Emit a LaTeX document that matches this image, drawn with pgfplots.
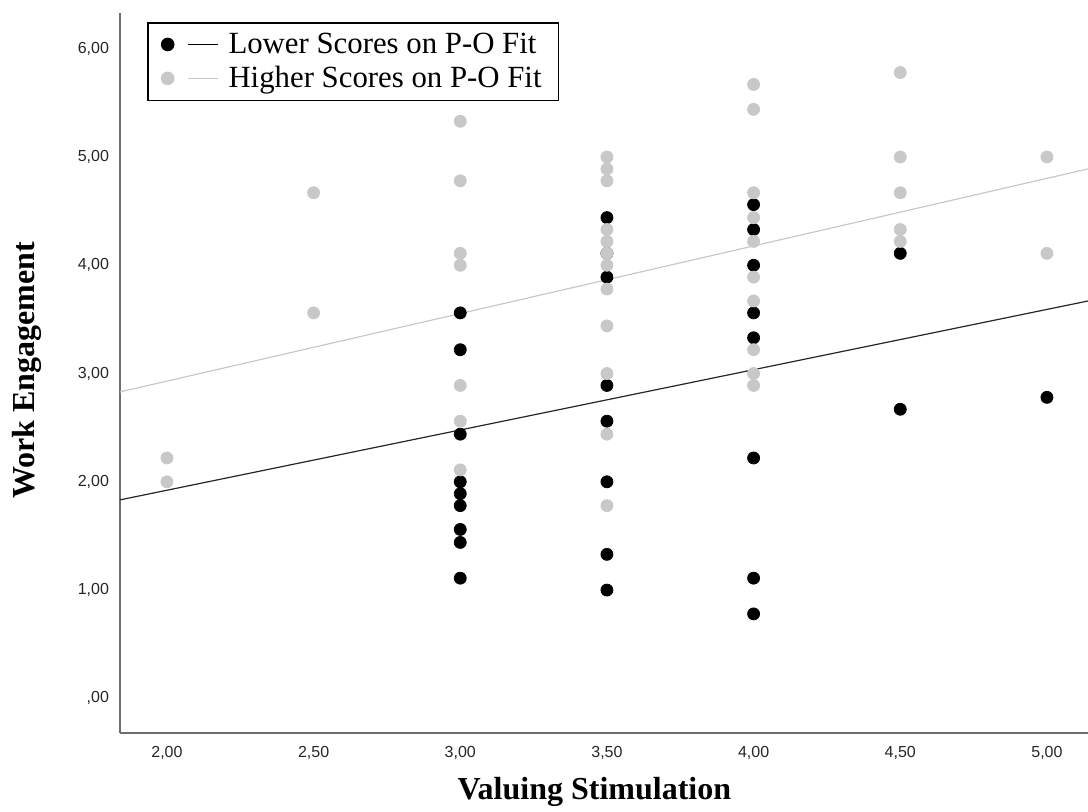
\documentclass[border=0pt]{standalone}
\usepackage{fontspec}
\setmainfont{Liberation Serif}
\newfontfamily\tickfont{Liberation Sans}
\usepackage{pgfplots}
\pgfplotsset{compat=1.18}
\definecolor{dotgray}{RGB}{200,200,200}
\definecolor{axgray}{RGB}{110,110,110}
\begin{document}
\begin{tikzpicture}
\begin{axis}[
  scale only axis, width=484pt, height=360pt,
  xmin=1.84, xmax=5.14, ymin=-0.32, ymax=6.33,
  axis x line*=bottom, axis y line*=left,
  axis line style={axgray, line width=0.8pt, -},
  major tick length=0pt,
  xtick={2,2.5,3,3.5,4,4.5,5},
  xticklabels={{2,00},{2,50},{3,00},{3,50},{4,00},{4,50},{5,00}},
  ytick={0,1,2,3,4,5,6},
  yticklabels={{,00},{1,00},{2,00},{3,00},{4,00},{5,00},{6,00}},
  ticklabel style={font=\tickfont\fontsize{8}{9}\selectfont, text=black!85},
  xticklabel style={yshift=-3pt},
  yticklabel style={xshift=-2pt},
  xlabel={\bfseries Valuing Stimulation},
  ylabel={\bfseries Work Engagement},
  label style={font=\fontsize{16}{18}\selectfont},
  xlabel style={at={(axis description cs:0.49,-0.082)}, anchor=center},
  ylabel style={at={(axis description cs:-0.096,0.504)}, anchor=center, rotate=0},
  legend style={at={(axis description cs:0.028,0.9875)}, anchor=north west,
    draw=black, line width=0.8pt, font=\fontsize{15.4}{16.5}\selectfont,
    inner xsep=6.5pt, inner ysep=3pt, row sep=1pt,
    cells={anchor=west}},
  legend cell align=left,
]
\addlegendimage{legend image code/.code={\fill[black] (0pt,0pt) circle (3pt); \draw[black,line width=0.6pt] (10pt,0pt) -- (25pt,0pt); \path (28pt,0pt);}}
\addlegendentry{Lower Scores on P-O Fit}
\addlegendimage{legend image code/.code={\fill[dotgray] (0pt,0pt) circle (3pt); \draw[dotgray,line width=0.6pt] (10pt,0pt) -- (25pt,0pt); \path (28pt,0pt);}}
\addlegendentry{Higher Scores on P-O Fit}

% lower P-O fit
\addplot[only marks, mark=*, mark size=3pt, mark options={fill=black, draw=black}, forget plot] coordinates {
(3.0,3.56)(3.0,3.22)(3.0,2.44)(3.0,2.0)(3.0,1.89)(3.0,1.78)(3.0,1.56)(3.0,1.44)(3.0,1.11)
(3.5,4.44)(3.5,4.11)(3.5,3.89)(3.5,2.89)(3.5,2.56)(3.5,2.0)(3.5,1.33)(3.5,1.0)
(4.0,4.56)(4.0,4.33)(4.0,4.0)(4.0,3.56)(4.0,3.33)(4.0,2.22)(4.0,1.11)(4.0,0.78)
(4.5,4.11)(4.5,2.67)
(5.0,2.78)
};
% higher P-O fit
\addplot[only marks, mark=*, mark size=3pt, mark options={fill=dotgray, draw=dotgray}, forget plot] coordinates {
(2.0,2.22)(2.0,2.0)
(2.5,4.67)(2.5,3.56)
(3.0,5.33)(3.0,4.78)(3.0,4.11)(3.0,4.0)(3.0,2.89)(3.0,2.56)(3.0,2.11)
(3.5,5.0)(3.5,4.89)(3.5,4.78)(3.5,4.33)(3.5,4.22)(3.5,4.11)(3.5,4.0)(3.5,3.78)(3.5,3.44)(3.5,3.0)(3.5,2.44)(3.5,1.78)
(4.0,5.67)(4.0,5.44)(4.0,4.67)(4.0,4.44)(4.0,4.22)(4.0,3.89)(4.0,3.67)(4.0,3.22)(4.0,3.0)(4.0,2.89)
(4.5,5.78)(4.5,5.0)(4.5,4.67)(4.5,4.33)(4.5,4.22)
(5.0,5.0)(5.0,4.11)
};
% fit lines
\addplot[black!85, line width=0.6pt, forget plot] coordinates {(1.84,1.833)(5.14,3.67)};
\addplot[dotgray, line width=0.6pt, forget plot] coordinates {(1.84,2.83)(5.14,4.89)};
\end{axis}
\pgfresetboundingbox
\useasboundingbox (-60pt,-39.5pt) rectangle (484pt,366.5pt);
\end{tikzpicture}
\end{document}
